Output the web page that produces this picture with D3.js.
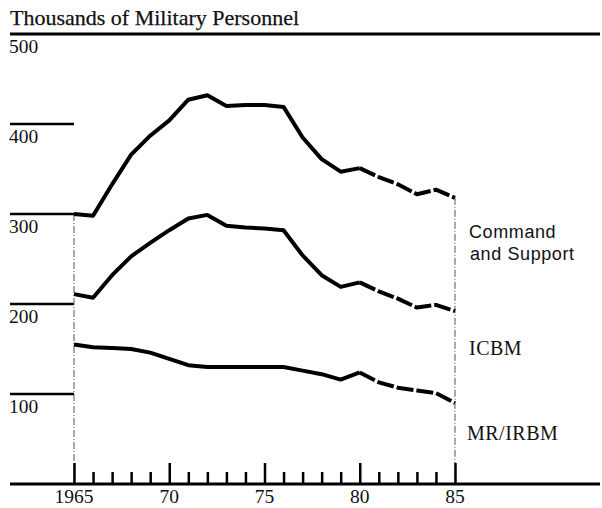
<!DOCTYPE html>
<html><head><meta charset="utf-8">
<script src="https://cdn.jsdelivr.net/npm/d3@7"></script>
<style>
html,body{margin:0;padding:0;background:#fff;}
svg{display:block;}
text{fill:#111;}
</style></head>
<body>
<svg id="chart" width="602" height="508"></svg>
<script>
// ---- data (thousands of military personnel) ----
const years = d3.range(1965, 1986);
const mrIrbm = [155,152,151,150,146,139,132,130,130,130,130,130,126,122,116,124,113,107,104,101,90];
const icbm   = [56,55,81,103,122,143,163,169,157,155,154,152,128,110,103,100,101,99,92,98,102];
const commandSupport = [89,91,101,113,119,122,132,133,133,136,137,137,131,129,128,127,127,127,126,128,126];
const seriesKeys = ["MR/IRBM", "ICBM", "Command and Support"];
const yTicks = [100, 200, 300, 400, 500];
const xMajorTicks = [1965, 1970, 1975, 1980, 1985];
const xTickLabels = ["1965", "70", "75", "80", "85"];
const projectionStart = 1980;
const title = "Thousands of Military Personnel";

const table = years.map((yr, i) => ({year: yr, "MR/IRBM": mrIrbm[i], "ICBM": icbm[i], "Command and Support": commandSupport[i]}));
const stacked = d3.stack().keys(seriesKeys)(table);

const svg = d3.select("#chart");
const x = d3.scaleLinear().domain([1965, 1985]).range([74, 455]);
const y = d3.scaleLinear().domain([0, 500]).range([484, 34]);
const serif = "'Liberation Serif','Times New Roman',serif";
const sans = "'Liberation Sans',Arial,sans-serif";

// title
svg.append("text").attr("x", 10).attr("y", 25)
  .attr("font-family", serif).attr("font-size", 22)
  .attr("stroke", "#111").attr("stroke-width", 0.25).text(title);

// top (500) line full width
svg.append("line").attr("x1", 10).attr("x2", 600).attr("y1", y(500)).attr("y2", y(500))
  .attr("stroke", "#000").attr("stroke-width", 3);

// short gridlines for other y ticks
svg.selectAll("line.ygrid").data(yTicks.filter(d => d < 500)).join("line")
  .attr("class", "ygrid")
  .attr("x1", 10).attr("x2", x(1965))
  .attr("y1", d => y(d)).attr("y2", d => y(d))
  .attr("stroke", "#000").attr("stroke-width", 2.5);

// y labels under lines
svg.selectAll("text.ylab").data(yTicks).join("text")
  .attr("class", "ylab")
  .attr("x", 9).attr("y", d => y(d) + 19)
  .attr("font-family", serif).attr("font-size", 19.5)
  .text(d => d);

// vertical thin dash-dot guide lines at ends
const totalFirst = stacked[2][0][1];
const totalLast = stacked[2][stacked[2].length - 1][1];
[[1965, totalFirst], [1985, totalLast]].forEach(([yr, v]) => {
  svg.append("line").attr("x1", x(yr)).attr("x2", x(yr))
    .attr("y1", y(v)).attr("y2", y(0))
    .attr("stroke", "#555").attr("stroke-width", 1)
    .attr("stroke-dasharray", "7,2,1,2");
});

// x axis: ticks pointing up
const xAxis = d3.axisTop(x)
  .tickValues(years)
  .tickSize(12)
  .tickFormat("");
const gx = svg.append("g").attr("transform", `translate(0,${y(0)})`).call(xAxis);
gx.select(".domain").remove();
gx.selectAll(".tick line").attr("stroke", "#000").attr("stroke-width", 2.5)
  .attr("y2", d => xMajorTicks.includes(d) ? -21 : -12);
svg.append("line").attr("x1", 10).attr("x2", 600).attr("y1", y(0)).attr("y2", y(0))
  .attr("stroke", "#000").attr("stroke-width", 3);

svg.selectAll("text.xlab").data(xMajorTicks).join("text")
  .attr("class", "xlab")
  .attr("x", d => x(d)).attr("y", 503)
  .attr("text-anchor", "middle")
  .attr("font-family", serif).attr("font-size", 19.5)
  .text((d, i) => xTickLabels[i]);

// lines (upper boundaries of stacked series)
const line = d3.line().x(d => x(d.data.year)).y(d => y(d[1]));
stacked.forEach(s => {
  const solid = s.filter(d => d.data.year <= projectionStart);
  const dashed = s.filter(d => d.data.year >= projectionStart);
  svg.append("path").attr("d", line(solid))
    .attr("fill", "none").attr("stroke", "#000").attr("stroke-width", 4)
    .attr("stroke-linejoin", "round");
  svg.append("path").attr("d", line(dashed))
    .attr("fill", "none").attr("stroke", "#000").attr("stroke-width", 4)
    .attr("stroke-dasharray", "17,3").attr("stroke-linejoin", "round");
});

// series labels
svg.append("text").attr("x", 469).attr("y", 238)
  .attr("font-family", sans).attr("font-size", 18).attr("letter-spacing", 0.6).text("Command");
svg.append("text").attr("x", 470).attr("y", 260)
  .attr("font-family", sans).attr("font-size", 18).attr("letter-spacing", 0.6).text("and Support");
svg.append("text").attr("x", 469).attr("y", 355)
  .attr("font-family", serif).attr("font-size", 20).attr("letter-spacing", 0.5).text("ICBM");
svg.append("text").attr("x", 467).attr("y", 440)
  .attr("font-family", serif).attr("font-size", 20).attr("letter-spacing", 0.5).text("MR/IRBM");
</script>
</body></html>
